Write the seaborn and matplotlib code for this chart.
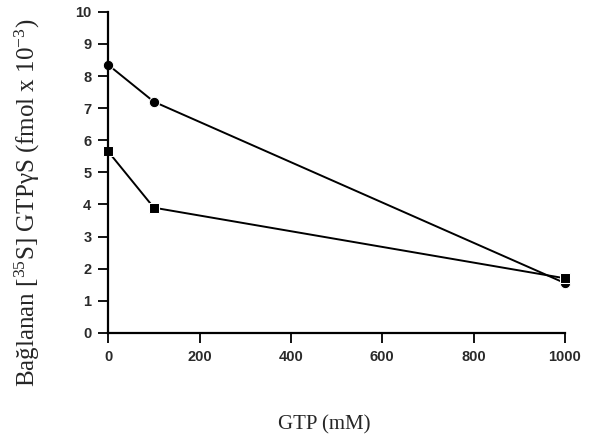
import matplotlib
matplotlib.use("Agg")
import matplotlib.pyplot as plt
import seaborn as sns
import pandas as pd

gtp = [0, 100, 1000]
circle_vals = [8.35, 7.2, 1.55]
square_vals = [5.65, 3.9, 1.7]
x_ticks = [0, 200, 400, 600, 800, 1000]
y_ticks = list(range(0, 11))

sns.set_style("ticks")
plt.rcParams['font.family'] = ['Liberation Sans', 'DejaVu Sans']
plt.rcParams['mathtext.fontset'] = 'custom'
plt.rcParams['mathtext.rm'] = 'Liberation Serif'
plt.rcParams['mathtext.it'] = 'Liberation Serif:italic'
plt.rcParams['mathtext.bf'] = 'Liberation Serif:bold'

df = pd.DataFrame({
    "GTP": gtp * 2,
    "val": circle_vals + square_vals,
    "series": ["circle"] * 3 + ["square"] * 3,
})

fig = plt.figure(figsize=(5.91, 4.38), dpi=100)
ax = fig.add_axes([0.183, 0.24, 0.773, 0.733])

sns.lineplot(data=df, x="GTP", y="val", hue="series", style="series",
             markers={"circle": "o", "square": "s"}, dashes=False,
             palette={"circle": "black", "square": "black"},
             markersize=7.5, linewidth=1.4, legend=False, ax=ax, clip_on=False)

ax.set_xlim(0, 1000)
ax.set_ylim(0, 10)
ax.set_xticks(x_ticks)
ax.set_yticks(y_ticks)
ax.tick_params(axis='both', direction='out', length=7, width=1.3, labelsize=10.5, colors='black', pad=5)
for lab in ax.get_xticklabels() + ax.get_yticklabels():
    lab.set_fontweight('bold')
    lab.set_color('#2a2a2a')
for s in ['top', 'right']:
    ax.spines[s].set_visible(False)
for s in ['left', 'bottom']:
    ax.spines[s].set_linewidth(1.6)
    ax.spines[s].set_color('black')

ax.set_xlabel("GTP (mM)", family=['Liberation Serif'], fontsize=15)
ax.set_ylabel(r"Bağlanan [$^{35}$S] GTPγS (fmol x 10$^{-3}$)",
              family=['Liberation Serif'], fontsize=18)
ax.yaxis.set_label_coords(-0.145, 0.405)
ax.xaxis.set_label_coords(0.473, -0.255)

fig.savefig("out.png", dpi=100)
